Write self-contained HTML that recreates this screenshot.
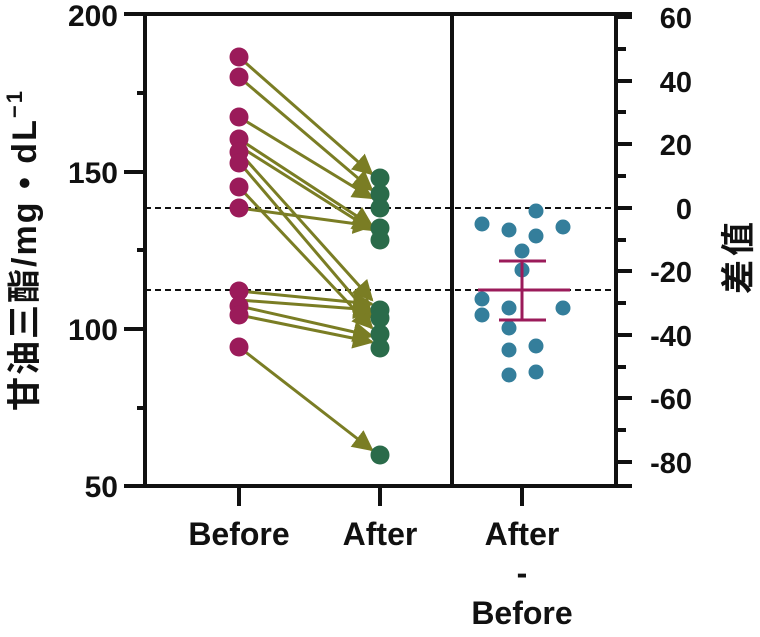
<!DOCTYPE html>
<html><head><meta charset="utf-8"><style>
body{margin:0;background:#fff}
svg text{font-family:"Liberation Sans","Noto Sans CJK SC",sans-serif;font-weight:bold;fill:#111}
</style></head><body>
<svg width="760" height="632" viewBox="0 0 760 632" xmlns="http://www.w3.org/2000/svg">
<defs>
<marker id="ah" viewBox="0 0 10 10" refX="9" refY="5" markerWidth="7" markerHeight="7" orient="auto" markerUnits="strokeWidth">
<path d="M0,0 L10,5 L0,10 z" fill="#7a7d24"/></marker>
</defs>
<line x1="145" y1="208" x2="616" y2="208" stroke="#111" stroke-width="2" stroke-dasharray="6,4"/>
<line x1="145" y1="290" x2="616" y2="290" stroke="#111" stroke-width="2" stroke-dasharray="6,4"/>
<g stroke="#7a7d24" stroke-width="3" marker-end="url(#ah)" fill="none">
<line x1="239" y1="57" x2="372" y2="174"/>
<line x1="239" y1="77" x2="372" y2="190"/>
<line x1="239" y1="117" x2="372" y2="198"/>
<line x1="239" y1="139" x2="372" y2="226"/>
<line x1="239" y1="146" x2="372" y2="230"/>
<line x1="239" y1="152" x2="372" y2="300"/>
<line x1="239" y1="162" x2="372" y2="318"/>
<line x1="239" y1="187" x2="372" y2="328"/>
<line x1="239" y1="208" x2="372" y2="226"/>
<line x1="239" y1="291" x2="372" y2="304"/>
<line x1="239" y1="300" x2="372" y2="310"/>
<line x1="239" y1="306" x2="372" y2="336"/>
<line x1="239" y1="315" x2="372" y2="342"/>
<line x1="239" y1="347" x2="372" y2="450"/>
</g>
<g fill="#9b1b5a">
<circle cx="239" cy="57" r="9.5"/><circle cx="239" cy="77" r="9.5"/><circle cx="239" cy="117" r="9.5"/>
<circle cx="239" cy="139" r="9.5"/><circle cx="239" cy="152" r="9.5"/><circle cx="239" cy="163" r="9.5"/>
<circle cx="239" cy="187" r="9.5"/><circle cx="239" cy="208" r="9.5"/>
<circle cx="239" cy="291" r="9.5"/><circle cx="239" cy="306" r="9.5"/><circle cx="239" cy="315" r="9.5"/>
<circle cx="239" cy="347" r="9.5"/>
</g>
<g fill="#2a6b4a">
<circle cx="380" cy="178" r="9.5"/><circle cx="380" cy="194" r="9.5"/><circle cx="380" cy="208" r="9.5"/>
<circle cx="380" cy="228" r="9.5"/><circle cx="380" cy="240" r="9.5"/>
<circle cx="380" cy="310" r="9.5"/><circle cx="380" cy="318" r="9.5"/><circle cx="380" cy="334" r="9.5"/>
<circle cx="380" cy="348" r="9.5"/><circle cx="380" cy="455" r="9.5"/>
</g>
<g fill="#347e9b">
<circle cx="482" cy="224" r="7.5"/><circle cx="509" cy="230" r="7.5"/><circle cx="536" cy="211" r="7.5"/>
<circle cx="563" cy="227" r="7.5"/><circle cx="536" cy="236" r="7.5"/><circle cx="522" cy="251" r="7.5"/>
<circle cx="522" cy="270" r="7.5"/><circle cx="482" cy="299" r="7.5"/><circle cx="482" cy="315" r="7.5"/>
<circle cx="509" cy="308" r="7.5"/><circle cx="563" cy="308" r="7.5"/><circle cx="509" cy="328" r="7.5"/>
<circle cx="509" cy="350" r="7.5"/><circle cx="536" cy="346" r="7.5"/><circle cx="509" cy="375" r="7.5"/>
<circle cx="536" cy="372" r="7.5"/>
</g>
<g stroke="#9b1b5a" stroke-width="3">
<line x1="499" y1="261" x2="546" y2="261"/><line x1="499" y1="320" x2="546" y2="320"/>
<line x1="522" y1="261" x2="522" y2="320"/><line x1="478" y1="290" x2="570" y2="290"/>
</g>
<g stroke="#111" stroke-width="4" fill="none">
<line x1="124" y1="14" x2="632" y2="14"/>
<line x1="124" y1="486" x2="632" y2="486"/>
<line x1="145" y1="12" x2="145" y2="488"/>
<line x1="452" y1="12" x2="452" y2="488"/>
<line x1="616" y1="12" x2="616" y2="488"/>
<line x1="124" y1="172" x2="145" y2="172"/>
<line x1="124" y1="329" x2="145" y2="329"/>
<line x1="137" y1="93" x2="145" y2="93"/><line x1="137" y1="250" x2="145" y2="250"/><line x1="137" y1="408" x2="145" y2="408"/>
<line x1="239" y1="486" x2="239" y2="506"/><line x1="380" y1="486" x2="380" y2="506"/><line x1="522" y1="486" x2="522" y2="506"/>
<line x1="616" y1="17" x2="632" y2="17"/><line x1="616" y1="81" x2="632" y2="81"/><line x1="616" y1="144" x2="632" y2="144"/>
<line x1="616" y1="208" x2="632" y2="208"/><line x1="616" y1="271" x2="632" y2="271"/><line x1="616" y1="335" x2="632" y2="335"/>
<line x1="616" y1="398" x2="632" y2="398"/><line x1="616" y1="462" x2="632" y2="462"/>
<line x1="616" y1="49" x2="626" y2="49"/><line x1="616" y1="112" x2="626" y2="112"/><line x1="616" y1="176" x2="626" y2="176"/>
<line x1="616" y1="240" x2="626" y2="240"/><line x1="616" y1="303" x2="626" y2="303"/><line x1="616" y1="367" x2="626" y2="367"/>
<line x1="616" y1="430" x2="626" y2="430"/>
</g>
<g font-size="30" text-anchor="end">
<text x="118" y="26">200</text><text x="118" y="183">150</text><text x="118" y="340">100</text><text x="118" y="497">50</text>
</g>
<g font-size="29" text-anchor="end">
<text x="692" y="28">60</text><text x="692" y="92">40</text><text x="692" y="155">20</text><text x="692" y="219">0</text>
<text x="692" y="282">-20</text><text x="692" y="346">-40</text><text x="692" y="409">-60</text><text x="692" y="473">-80</text>
</g>
<g font-size="32" text-anchor="middle">
<text x="239" y="545">Before</text><text x="380" y="545">After</text>
<text x="522" y="545">After</text><text x="522" y="584">-</text><text x="522" y="624">Before</text>
</g>
<text transform="translate(36,250) rotate(-90)" font-size="34" text-anchor="middle" letter-spacing="2">甘油三酯/mg • dL<tspan font-size="22" dy="-14">−1</tspan></text>
<text transform="translate(750,256) rotate(-90)" font-size="34" text-anchor="middle" letter-spacing="4">差值</text>
</svg>
</body></html>
